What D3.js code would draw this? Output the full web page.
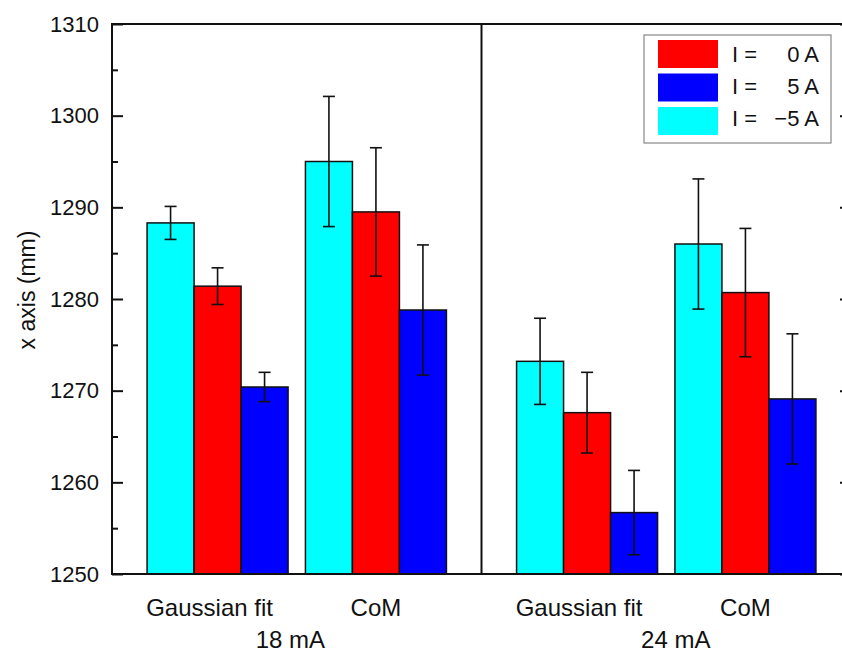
<!DOCTYPE html>
<html lang="en">
<head>
<meta charset="UTF-8">
<title>x axis bar chart</title>
<script src="https://cdnjs.cloudflare.com/ajax/libs/d3/7.8.5/d3.min.js"></script>
<style>
    * { margin: 0; padding: 0; }
    body { background: #fff; }
    svg { display: block; font-family: "Liberation Sans", Arial, sans-serif; }
    .bar { stroke: #111; stroke-width: 1.5; }
    .err { stroke: #111; stroke-width: 1.6; fill: none; }
    .frame { stroke: #111; stroke-width: 2; fill: none; }
</style>
</head>
<body>
<div id="chart"></div>
<script>
    // data
    var groups = ["18 mA", "24 mA"];
    var methods = ["Gaussian fit", "CoM"];
    var seriesNames = ["I = \u22125 A", "I =   0 A", "I =   5 A"];
    var seriesColors = ["#00ffff", "#ff0000", "#0000ff"];
    // values: [18mA Gaussian, 18mA CoM, 24mA Gaussian, 24mA CoM]
    var valMinus5 = [1288.3, 1295.0, 1273.2, 1286.0];
    var valZero   = [1281.4, 1289.5, 1267.6, 1280.7];
    var valPlus5  = [1270.4, 1278.8, 1256.7, 1269.1];
    var errMinus5 = [1.8, 7.1, 4.7, 7.1];
    var errZero   = [2.0, 7.0, 4.4, 7.0];
    var errPlus5  = [1.6, 7.1, 4.6, 7.1];
    var yTicks = [1250, 1260, 1270, 1280, 1290, 1300, 1310];
    var groupLabelPos = [1.46, 1.56]; // position of group label in category units
    var legendOrder = [1, 2, 0];

    var values = [valMinus5, valZero, valPlus5];
    var errors = [errMinus5, errZero, errPlus5];

    var W = 842, H = 657;
    var plotTop = 24, plotBottom = 574, plotLeft = 112, panelW = 369.5;
    var barW = 47;

    var svg = d3.select("#chart").append("svg")
        .attr("width", W).attr("height", H);

    var y = d3.scaleLinear().domain([1250, 1310]).range([plotBottom, plotTop]);

    // one x scale per panel (category 1 and 2 centred)
    var xs = groups.map(function(g, i) {
        return d3.scaleLinear().domain([1 / 3, 8 / 3])
            .range([plotLeft + i * panelW, plotLeft + (i + 1) * panelW]);
    });
    var inner = d3.scaleBand().domain(d3.range(3))
        .range([-1.5 * barW, 1.5 * barW]);

    // flatten bars
    var bars = [];
    groups.forEach(function(g, gi) {
        methods.forEach(function(m, mi) {
            seriesNames.forEach(function(s, si) {
                var k = gi * 2 + mi;
                bars.push({ g: gi, m: mi, s: si, v: values[si][k], e: errors[si][k] });
            });
        });
    });

    svg.selectAll("rect.bar").data(bars).enter().append("rect")
        .attr("class", "bar")
        .attr("x", function(d) { return xs[d.g](d.m + 1) + inner(d.s); })
        .attr("width", barW)
        .attr("y", function(d) { return y(d.v); })
        .attr("height", function(d) { return y(1250) - y(d.v); })
        .attr("fill", function(d) { return seriesColors[d.s]; });

    // error bars
    var eb = svg.selectAll("g.eb").data(bars).enter().append("g").attr("class", "err");
    function cx(d) { return xs[d.g](d.m + 1) + inner(d.s) + barW / 2; }
    eb.append("line")
        .attr("x1", cx).attr("x2", cx)
        .attr("y1", function(d) { return y(d.v - d.e); })
        .attr("y2", function(d) { return y(d.v + d.e); });
    [-1, 1].forEach(function(sign) {
        eb.append("line")
            .attr("x1", function(d) { return cx(d) - 6; })
            .attr("x2", function(d) { return cx(d) + 6; })
            .attr("y1", function(d) { return y(d.v + sign * d.e); })
            .attr("y2", function(d) { return y(d.v + sign * d.e); });
    });

    // y axis (left) with minor ticks pointing inward
    var minor = d3.range(1255, 1310, 10);
    var yAxisL = svg.append("g").attr("transform", "translate(" + plotLeft + ",0)");
    yAxisL.call(d3.axisRight(y).tickValues(yTicks).tickSize(11).tickFormat(""));
    yAxisL.append("g").call(d3.axisRight(y).tickValues(minor).tickSize(6).tickFormat(""));
    yAxisL.selectAll("path.domain").remove();
    yAxisL.selectAll("line").attr("stroke", "#111").attr("stroke-width", 2);

    var rightX = plotLeft + 2 * panelW;
    var yAxisR = svg.append("g").attr("transform", "translate(" + rightX + ",0)");
    yAxisR.call(d3.axisLeft(y).tickValues(yTicks).tickSize(11).tickFormat(""));
    yAxisR.append("g").call(d3.axisLeft(y).tickValues(minor).tickSize(6).tickFormat(""));
    yAxisR.selectAll("path.domain").remove();
    yAxisR.selectAll("line").attr("stroke", "#111").attr("stroke-width", 2);

    svg.selectAll("text.ytick").data(yTicks).enter().append("text")
        .attr("class", "ytick")
        .attr("x", 99).attr("y", function(d) { return y(d); })
        .attr("dy", "0.35em")
        .attr("text-anchor", "end")
        .attr("font-size", 22)
        .attr("fill", "#111")
        .text(function(d) { return d; });

    // frame and divider
    svg.append("rect").attr("class", "frame")
        .attr("x", plotLeft).attr("y", plotTop)
        .attr("width", rightX - plotLeft).attr("height", plotBottom - plotTop);
    svg.append("line").attr("class", "frame")
        .attr("x1", plotLeft + panelW).attr("x2", plotLeft + panelW)
        .attr("y1", plotTop).attr("y2", plotBottom);

    // category labels (Origin-style: the long label sits a bit left)
    groups.forEach(function(g, gi) {
        methods.forEach(function(m, mi) {
            svg.append("text")
                .attr("x", xs[gi](mi + 1) - (mi === 0 ? 8 : 0)).attr("y", 616)
                .attr("text-anchor", "middle")
                .attr("font-size", 24).attr("fill", "#111")
                .text(m);
        });
        svg.append("text")
            .attr("x", xs[gi](groupLabelPos[gi])).attr("y", 648)
            .attr("text-anchor", "middle")
            .attr("font-size", 24).attr("fill", "#111")
            .text(g);
    });

    // y title
    svg.append("text")
        .attr("transform", "translate(35,290) rotate(-90)")
        .attr("text-anchor", "middle")
        .attr("font-size", 23).attr("fill", "#111")
        .text("x axis (mm)");

    // legend
    var lg = svg.append("g");
    lg.append("rect")
        .attr("x", 644).attr("y", 35).attr("width", 187).attr("height", 108)
        .attr("fill", "#fff").attr("stroke", "#888").attr("stroke-width", 1.2);
    legendOrder.forEach(function(si, r) {
        var yy = 40 + r * 33.5;
        lg.append("rect")
            .attr("x", 658).attr("y", yy).attr("width", 60).attr("height", 28)
            .attr("fill", seriesColors[si]);
        var parts = seriesNames[si].split("=");
        lg.append("text")
            .attr("x", 732).attr("y", yy + 14 - r * 1.5).attr("dy", "0.35em")
            .attr("font-size", 22).attr("fill", "#111")
            .text(parts[0].trim() + " =");
        lg.append("text")
            .attr("x", 819).attr("y", yy + 14 - r * 1.5).attr("dy", "0.35em")
            .attr("text-anchor", "end")
            .attr("font-size", 22).attr("fill", "#111")
            .text(parts[1].trim());
    });
</script>
</body>
</html>
